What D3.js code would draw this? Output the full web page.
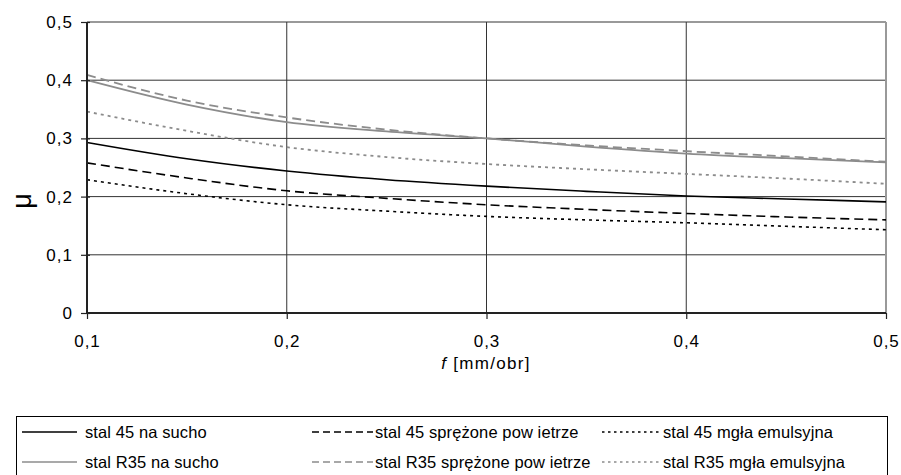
<!DOCTYPE html>
<html><head><meta charset="utf-8">
<script src="https://cdn.jsdelivr.net/npm/d3@7"></script>
<style>body{margin:0;background:#fff}svg{display:block;font-family:"Liberation Sans",Arial,sans-serif}</style>
</head><body><svg id="c" width="901" height="475"></svg>
<script>
const feeds = [0.1, 0.15, 0.2, 0.25, 0.3, 0.35, 0.4, 0.45, 0.5];
const xTicks = [0.1, 0.2, 0.3, 0.4, 0.5];
const yTicks = [0, 0.1, 0.2, 0.3, 0.4, 0.5];
const s45Dry = [0.293, 0.265, 0.244, 0.229, 0.218, 0.209, 0.201, 0.196, 0.191];
const s45Air = [0.258, 0.232, 0.210, 0.197, 0.186, 0.178, 0.171, 0.165, 0.160];
const s45Mist = [0.229, 0.205, 0.186, 0.175, 0.166, 0.160, 0.155, 0.149, 0.143];
const r35Dry = [0.400, 0.358, 0.328, 0.312, 0.300, 0.286, 0.274, 0.266, 0.259];
const r35Air = [0.409, 0.365, 0.336, 0.315, 0.300, 0.288, 0.278, 0.269, 0.260];
const r35Mist = [0.346, 0.313, 0.285, 0.268, 0.256, 0.247, 0.239, 0.231, 0.222];
const seriesNames = ["stal 45 na sucho","stal 45 sprężone pow ietrze","stal 45 mgła emulsyjna",
  "stal R35 na sucho","stal R35 sprężone pow ietrze","stal R35 mgła emulsyjna"];

const black = "#000", gray = "#8c8c8c";
const series = [
  {name: seriesNames[0], v: s45Dry, c: black, d: null},
  {name: seriesNames[1], v: s45Air, c: black, d: "9,5"},
  {name: seriesNames[2], v: s45Mist, c: black, d: "3,4"},
  {name: seriesNames[3], v: r35Dry, c: gray, d: null},
  {name: seriesNames[4], v: r35Air, c: gray, d: "9,5"},
  {name: seriesNames[5], v: r35Mist, c: gray, d: "3,4"}
];

const svg = d3.select("#c");
const L = 87, R = 886, T = 22, B = 313;
const x = d3.scaleLinear().domain([0.1, 0.5]).range([L, R]);
const y = d3.scaleLinear().domain([0, 0.5]).range([B, T]);
const fmt = d => String(d).replace(".", ",");

// grid
svg.append("g").selectAll("line").data(yTicks.slice(1)).join("line")
  .attr("x1", L).attr("x2", R).attr("y1", d => y(d)).attr("y2", d => y(d))
  .attr("stroke", d => d === 0.5 ? "#777" : "#333").attr("stroke-width", d => d === 0.5 ? 1.5 : 1);
svg.append("g").selectAll("line").data(xTicks.slice(1, 4)).join("line")
  .attr("y1", T).attr("y2", B).attr("x1", d => x(d)).attr("x2", d => x(d))
  .attr("stroke", "#333").attr("stroke-width", 1);
svg.append("line").attr("x1", R).attr("x2", R).attr("y1", T).attr("y2", B)
  .attr("stroke", "#999").attr("stroke-width", 2);

// series
const line = d3.line().x((d, i) => x(feeds[i])).y(d => y(d)).curve(d3.curveMonotoneX);
svg.append("g").selectAll("path").data(series).join("path")
  .attr("d", s => line(s.v)).attr("fill", "none").attr("stroke", s => s.c)
  .attr("stroke-width", s => s.c === black ? 1.6 : 1.8)
  .attr("stroke-dasharray", s => s.d);

// axes
const xa = svg.append("g").attr("transform", `translate(0,${B})`)
  .call(d3.axisBottom(x).tickValues(xTicks).tickFormat(fmt).tickSize(6).tickPadding(16));
const ya = svg.append("g").attr("transform", `translate(${L},0)`)
  .call(d3.axisLeft(y).tickValues(yTicks).tickFormat(fmt).tickSize(6).tickPadding(8));
[xa, ya].forEach(a => {
  a.select(".domain").attr("stroke", "#222").attr("stroke-width", 2);
  a.selectAll(".tick line").attr("stroke", "#222").attr("stroke-width", 1.2);
  a.selectAll("text").attr("font-size", 17).attr("letter-spacing", 1)
    .attr("font-family", "Liberation Sans, Arial, sans-serif").attr("fill", "#000");
});
ya.selectAll(".tick line").attr("x2", 3).attr("x1", -6);
ya.select(".domain").attr("d", `M0,${B}V${T}`);
xa.select(".domain").attr("d", `M${L},0H${R}`);

// axis titles
const xt = svg.append("text").attr("x", 486).attr("y", 369).attr("text-anchor", "middle")
  .attr("font-size", 17).attr("letter-spacing", 1.3);
xt.append("tspan").attr("font-style", "italic").text("f");
xt.append("tspan").text(" [mm/obr]");
svg.append("text").attr("transform", "translate(31,201) rotate(-90)").attr("text-anchor", "middle")
  .attr("font-size", 27).text("μ");

// legend
svg.append("rect").attr("x", 16.5).attr("y", 416.5).attr("width", 871).attr("height", 70)
  .attr("fill", "none").attr("stroke", "#000").attr("stroke-width", 1);
const cols = [{lx: 22, lw: 55, tx: 85}, {lx: 312, lw: 61, tx: 375}, {lx: 602, lw: 59, tx: 663}];
const rows = [432, 462];
const lg = svg.append("g").selectAll("g").data(series).join("g")
  .attr("transform", (s, i) => `translate(0,${rows[Math.floor(i / 3)]})`);
lg.append("line").attr("x1", (s, i) => cols[i % 3].lx).attr("x2", (s, i) => cols[i % 3].lx + cols[i % 3].lw)
  .attr("y1", 0).attr("y2", 0).attr("stroke", s => s.c).attr("stroke-width", s => s.c === black ? 1.6 : 1.4)
  .attr("stroke-dasharray", s => s.d === "3,4" ? "2.5,3.5" : (s.d ? "7,4" : null));
lg.append("text").attr("x", (s, i) => cols[i % 3].tx).attr("y", 6).attr("font-size", 16.5)
  .attr("letter-spacing", 0.1).text(s => s.name);
</script></body></html>
